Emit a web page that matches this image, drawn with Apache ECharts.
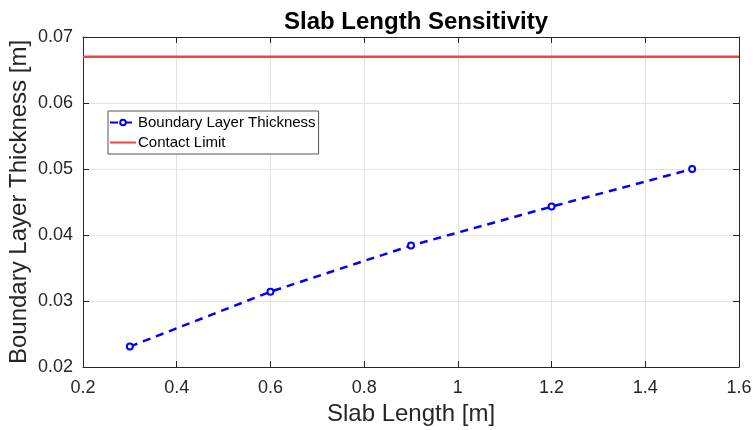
<!DOCTYPE html>
<html>
<head>
<meta charset="utf-8">
<script src="https://cdn.jsdelivr.net/npm/echarts@6/dist/echarts.min.js"></script>
<style>
  html, body { margin: 0; padding: 0; background: #fff; }
  #chart { width: 753px; height: 430px; }
</style>
</head>
<body>
<div id="chart"></div>
<script>
// Slab length sweep and resulting boundary layer thickness
const slabLength = [0.3, 0.6, 0.9, 1.2, 1.5];
const layerThickness = [0.0231, 0.0314, 0.0384, 0.0443, 0.0500];
const contactLimit = 0.067;
const xRange = [0.2, 1.6];
const yRange = [0.02, 0.07];

const font = 'Liberation Sans, Arial, Helvetica, sans-serif';
const axisColor = '#262626';

const chart = echarts.init(document.getElementById('chart'), null, { renderer: 'canvas' });

const fmtX = v => String(parseFloat(v.toFixed(1)));
const fmtY = v => v.toFixed(2);

chart.setOption({
  animation: false,
  backgroundColor: '#ffffff',
  title: {
    text: 'Slab Length Sensitivity',
    left: 411, top: 5, textAlign: 'center',
    textStyle: { fontFamily: font, fontSize: 24, fontWeight: 'bold', color: '#000' }
  },
  legend: {
    left: 108, top: 111, orient: 'vertical',
    backgroundColor: '#fff', borderColor: '#555', borderWidth: 1,
    padding: [2, 3, 2, 1], itemGap: 1, itemWidth: 26, itemHeight: 7,
    textStyle: { fontFamily: font, fontSize: 15, color: '#000', padding: [1, 0, 0, -3], lineHeight: 18 },
    data: [
      { name: 'Boundary Layer Thickness' },
      { name: 'Contact Limit', icon: 'path://M0,0 L26,0 L26,2 L0,2 Z' }
    ]
  },
  grid: { left: 83, right: 14, top: 37, bottom: 63, show: false, outerBoundsMode: 'none', containLabel: false },
  xAxis: [{
    type: 'value', min: xRange[0], max: xRange[1], interval: 0.2,
    name: 'Slab Length [m]', nameLocation: 'middle', nameGap: 34,
    nameTextStyle: { fontFamily: font, fontSize: 24, color: axisColor },
    axisLine: { show: true, onZero: false, lineStyle: { color: axisColor, width: 1 } },
    axisTick: { show: true, inside: true, length: 6, lineStyle: { color: axisColor } },
    axisLabel: { fontFamily: font, fontSize: 18, color: axisColor, margin: 12, formatter: fmtX },
    splitLine: { show: true, lineStyle: { color: '#e3e3e3', width: 1 } }
  }, {
    type: 'value', min: xRange[0], max: xRange[1], interval: 0.2, position: 'top',
    axisLine: { show: true, onZero: false, lineStyle: { color: axisColor, width: 1 } },
    axisTick: { show: true, inside: true, length: 6, lineStyle: { color: axisColor } },
    axisLabel: { show: false }, splitLine: { show: false }
  }],
  yAxis: [{
    type: 'value', min: yRange[0], max: yRange[1], interval: 0.01,
    name: 'Boundary Layer Thickness [m]', nameLocation: 'middle', nameGap: 52,
    nameMoveOverlap: false,
    nameTextStyle: { fontFamily: font, fontSize: 24, color: axisColor },
    axisLine: { show: true, onZero: false, lineStyle: { color: axisColor, width: 1 } },
    axisTick: { show: true, inside: true, length: 6, lineStyle: { color: axisColor } },
    axisLabel: { fontFamily: font, fontSize: 18, color: axisColor, margin: 10, formatter: fmtY },
    splitLine: { show: true, lineStyle: { color: '#e3e3e3', width: 1 } }
  }, {
    type: 'value', min: yRange[0], max: yRange[1], interval: 0.01, position: 'right',
    axisLine: { show: true, onZero: false, lineStyle: { color: axisColor, width: 1 } },
    axisTick: { show: true, inside: true, length: 6, lineStyle: { color: axisColor } },
    axisLabel: { show: false }, splitLine: { show: false }
  }],
  series: [{
    name: 'Boundary Layer Thickness',
    type: 'line',
    data: slabLength.map((x, i) => [x, layerThickness[i]]),
    symbol: 'emptyCircle', symbolSize: 6,
    lineStyle: { color: '#0000ff', width: 2.5, type: [8, 6] },
    itemStyle: { color: '#0000ff', borderColor: '#0000ff', borderWidth: 2 },
    z: 3
  }, {
    name: 'Contact Limit',
    type: 'line',
    data: [[xRange[0], contactLimit], [xRange[1], contactLimit]],
    symbol: 'none',
    lineStyle: { color: '#f04545', width: 2.5 },
    itemStyle: { color: '#f04545' },
    z: 2
  }]
});
</script>
</body>
</html>
